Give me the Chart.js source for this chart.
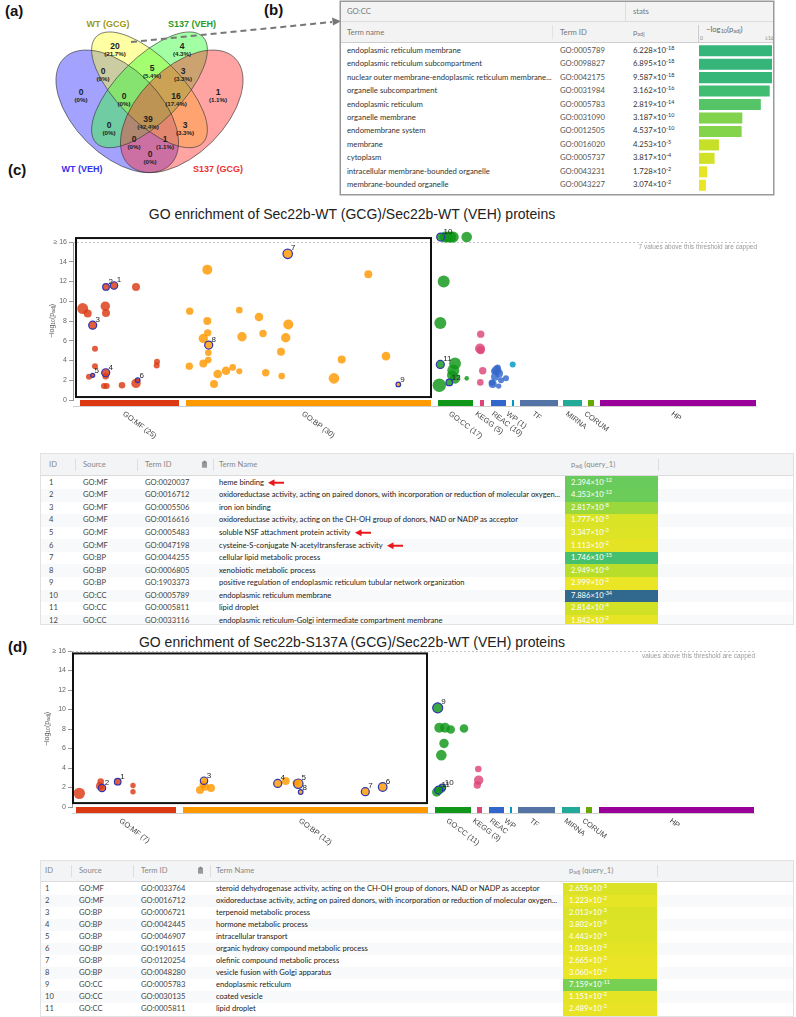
<!DOCTYPE html>
<html>
<head>
<meta charset="utf-8">
<script src="https://cdn.jsdelivr.net/npm/chart.js@4.4.1/dist/chart.umd.min.js"></script>
<style>
  body { margin:0; background:#fff; }
  #page { position:relative; width:796px; height:1017px; overflow:hidden; font-family:"Liberation Sans", Arial, sans-serif; }
  .panel { position:absolute; font-weight:bold; font-size:15px; color:#111; }
  .ptitle { position:absolute; left:0; width:704px; text-align:center; font-size:14px; color:#222; line-height:16px; }
  .tbl { position:absolute; background:#fff; overflow:hidden; font-family:Lato, "Open Sans", sans-serif; font-size:7.6px; color:#333; }
  .cell { position:absolute; white-space:nowrap; line-height:1; }
  sup { font-size:5.5px; vertical-align:3px; line-height:0; }
  sub { font-size:5.5px; vertical-align:-1px; line-height:0; }
  canvas { position:absolute; }
</style>
</head>
<body>
<div id="page">
  <svg id="top" width="796" height="200" style="position:absolute;left:0;top:0"></svg>
  <div class="panel" style="left:5px;top:2px">(a)</div>
  <div class="panel" style="left:264px;top:1px">(b)</div>
  <div class="panel" style="left:8px;top:161px">(c)</div>
  <div class="panel" style="left:8px;top:638px">(d)</div>

  <div id="tblB" class="tbl"></div>
  <canvas id="chartB"></canvas>

  <div class="ptitle" style="top:206px">GO enrichment of Sec22b-WT (GCG)/Sec22b-WT (VEH) proteins</div>
  <canvas id="chartC"></canvas>
  <div id="tblC" class="tbl"></div>

  <div class="ptitle" style="top:634px">GO enrichment of Sec22b-S137A (GCG)/Sec22b-WT (VEH) proteins</div>
  <canvas id="chartD"></canvas>
  <div id="tblD" class="tbl"></div>
</div>
<script>
// ---- (a) Venn counts, one per region
const vennSets = ['WT (VEH)', 'WT (GCG)', 'S137 (VEH)', 'S137 (GCG)'];
const vennCounts = [20, 4, 0, 1, 0, 5, 3, 0, 16, 39, 0, 3, 0, 1, 0];

// ---- (b) GO:CC terms
const bTerms = ['endoplasmic reticulum membrane', 'endoplasmic reticulum subcompartment', 'nuclear outer membrane-endoplasmic reticulum membrane...', 'organelle subcompartment', 'endoplasmic reticulum', 'organelle membrane', 'endomembrane system', 'membrane', 'cytoplasm', 'intracellular membrane-bounded organelle', 'membrane-bounded organelle'];
const bIds = ['GO:0005789', 'GO:0098827', 'GO:0042175', 'GO:0031984', 'GO:0005783', 'GO:0031090', 'GO:0012505', 'GO:0016020', 'GO:0005737', 'GO:0043231', 'GO:0043227'];
const bMant = [6.228, 6.895, 9.587, 3.162, 2.819, 3.187, 4.537, 4.253, 3.817, 1.728, 3.074];
const bExp = [-18, -18, -18, -16, -14, -10, -10, -5, -4, -2, -2];

// ---- sources of the manhattan plots
const sourceNames = ['GO:MF', 'GO:BP', 'GO:CC', 'KEGG', 'REAC', 'WP', 'TF', 'MIRNA', 'CORUM', 'HP'];
const sourceColors = ['#dc3912', '#ff9900', '#109618', '#dd4477', '#3366cc', '#0099c6', '#5574a6', '#22aa99', '#66aa00', '#990099'];

// (c) segment ranges on the term axis and term counts
const cSegStart = [7, 113, 365, 407, 418, 439, 447, 490, 515, 527];
const cSegEnd = [106, 358, 400, 411, 433, 441, 485, 509, 521, 683];
const cCounts = [25, 30, 17, 5, 10, 1, 0, 0, 0, 0];
// points: [position, -log10(padj), radius, highlighted id]
const cMF = [[9.7, 9.26, 5.5, 0], [14.7, 8.75, 4, 0], [63, 11.45, 4, 0], [32.3, 9.5, 4.7, 0], [33, 8.8, 4, 0], [22, 5.2, 3, 0], [22, 3.43, 3, 0], [16, 2.36, 3, 0], [32.7, 2.4, 3.3, 0], [31, 1.41, 3, 0], [33.7, 1.41, 3, 0], [49, 1.5, 3.3, 0], [63, 1.68, 4.7, 0], [84, 3.87, 3, 0], [83.7, 3.5, 3, 0], [33, 11.45, 3.3, 2], [41, 11.6, 3.7, 1], [19.7, 7.58, 4, 3], [32.7, 2.76, 4, 4], [19.7, 2.5, 2, 5], [64.7, 2.0, 2.3, 6]];
const cBP = [[134.3, 13.2, 5, 0], [295.3, 12.73, 4, 0], [116.7, 9.0, 3.7, 0], [166.3, 9.1, 3.3, 0], [134.3, 8.0, 4, 0], [186, 8.4, 4.3, 0], [215.3, 7.64, 5, 0], [134.7, 6.8, 3.7, 0], [190, 6.73, 3.7, 0], [130.3, 6.23, 4.7, 0], [169, 6.4, 4.7, 0], [212.7, 6.3, 4.7, 0], [135.3, 4.78, 3.3, 0], [208, 4.88, 4, 0], [116.3, 3.43, 3.7, 0], [130.3, 3.7, 4, 0], [135.3, 4.04, 3.3, 0], [268.7, 4.1, 4, 0], [313, 4.44, 4.3, 0], [159.7, 3.3, 3.3, 0], [153, 2.96, 4.3, 0], [144.7, 2.63, 4.3, 0], [166.3, 2.9, 3, 0], [192.7, 2.76, 3.7, 0], [208.7, 2.42, 3.3, 0], [261, 2.19, 5.3, 0], [141, 1.62, 4, 0], [214.7, 14.8, 4.7, 7], [135.7, 5.56, 4, 8], [325.3, 1.58, 2.3, 9]];
const cCC = [[372, 16.5, 5.5, 0], [375.3, 16.5, 5.5, 0], [378, 16.5, 5.5, 0], [380.3, 16.5, 5.5, 0], [374, 16.5, 5, 0], [393.7, 16.5, 5.3, 0], [370.7, 12.0, 6, 0], [367.3, 7.8, 6, 0], [382, 3.7, 6, 0], [380.3, 3.0, 6, 0], [366.3, 1.5, 6.7, 0], [382, 2.19, 5.3, 0], [379, 2.5, 5, 0], [393.7, 2.19, 2.3, 0], [367.7, 16.5, 4, 10], [367.3, 3.6, 4, 11], [376.3, 1.78, 3.3, 12]];
const cKEGG = [[407.7, 6.67, 3.7, 0], [407, 5.22, 5, 0], [407.7, 5.05, 4, 0], [409.7, 2.96, 3.7, 0], [407.3, 1.78, 3.3, 0]];
const cREAC = [[423.7, 3.03, 4.7, 0], [426, 2.69, 4, 0], [422, 2.36, 4, 0], [419.7, 1.62, 4, 0], [425.7, 1.41, 2.7, 0], [433, 2.19, 3, 0], [424.7, 3.3, 3, 0], [419, 1.75, 3.3, 0], [421, 2.9, 3, 0], [428, 2.0, 3, 0]];
const cWP = [[439.7, 3.6, 3, 0]];

// (d)
const dSegStart = [4, 111, 363, 405, 417, 438, 446, 490, 514, 527];
const dSegEnd = [104, 356, 399, 410, 432, 440, 483, 508, 520, 682];
const dCounts = [7, 12, 11, 3, 0, 0, 0, 0, 0, 0];
const dMF = [[7.3, 1.4, 5.7, 0], [28.7, 2.6, 3.3, 0], [28, 2.15, 4, 0], [61, 2.2, 2.7, 0], [61, 1.57, 2.7, 0], [30, 1.95, 3.7, 2], [45.7, 2.6, 3.3, 1]];
const dBP = [[128, 1.74, 4, 0], [133, 2.08, 4, 0], [139, 1.95, 4, 0], [131, 2.3, 3.5, 0], [213.7, 2.66, 4, 0], [224, 2.5, 3.5, 0], [132, 2.7, 3.7, 3], [205.7, 2.42, 4, 4], [226.3, 2.39, 4.7, 5], [310.7, 2.05, 4.3, 6], [293.3, 1.57, 4, 7], [228.7, 1.54, 2.3, 8]];
const dCC = [[367.3, 8.12, 5, 0], [373, 8.12, 5, 0], [378.7, 7.95, 4.3, 0], [392, 8.05, 4.3, 0], [372, 6.52, 4.7, 0], [369.3, 5.32, 5.3, 0], [364.7, 1.54, 4.7, 0], [369.7, 1.8, 3.3, 0], [365.7, 10.17, 5, 9], [370.3, 2.0, 3.3, 10], [366.7, 1.74, 4, 11]];
const dKEGG = [[406.3, 3.9, 3.3, 0], [406.7, 2.76, 4.7, 0], [405.3, 2.25, 3.7, 0]];

// ---- (c) table
const cSrc = ['GO:MF', 'GO:MF', 'GO:MF', 'GO:MF', 'GO:MF', 'GO:MF', 'GO:BP', 'GO:BP', 'GO:BP', 'GO:CC', 'GO:CC', 'GO:CC'];
const cTid = ['GO:0020037', 'GO:0016712', 'GO:0005506', 'GO:0016616', 'GO:0005483', 'GO:0047198', 'GO:0044255', 'GO:0006805', 'GO:1903373', 'GO:0005789', 'GO:0005811', 'GO:0033116'];
const cNames = ['heme binding', 'oxidoreductase activity, acting on paired donors, with incorporation or reduction of molecular oxygen...', 'iron ion binding', 'oxidoreductase activity, acting on the CH-OH group of donors, NAD or NADP as acceptor', 'soluble NSF attachment protein activity', 'cysteine-S-conjugate N-acetyltransferase activity', 'cellular lipid metabolic process', 'xenobiotic metabolic process', 'positive regulation of endoplasmic reticulum tubular network organization', 'endoplasmic reticulum membrane', 'lipid droplet', 'endoplasmic reticulum-Golgi intermediate compartment membrane'];
const cMant = [2.394, 4.353, 2.817, 1.777, 3.347, 1.113, 1.746, 2.949, 2.999, 7.886, 2.814, 1.842];
const cExp = [-12, -12, -8, -3, -3, -2, -15, -6, -2, -34, -4, -2];
const cArrows = [1, 5, 6];

// ---- (d) table
const dSrc = ['GO:MF', 'GO:MF', 'GO:BP', 'GO:BP', 'GO:BP', 'GO:BP', 'GO:BP', 'GO:BP', 'GO:CC', 'GO:CC', 'GO:CC'];
const dTid = ['GO:0033764', 'GO:0016712', 'GO:0006721', 'GO:0042445', 'GO:0046907', 'GO:1901615', 'GO:0120254', 'GO:0048280', 'GO:0005783', 'GO:0030135', 'GO:0005811'];
const dNames = ['steroid dehydrogenase activity, acting on the CH-OH group of donors, NAD or NADP as acceptor', 'oxidoreductase activity, acting on paired donors, with incorporation or reduction of molecular oxygen...', 'terpenoid metabolic process', 'hormone metabolic process', 'intracellular transport', 'organic hydroxy compound metabolic process', 'olefinic compound metabolic process', 'vesicle fusion with Golgi apparatus', 'endoplasmic reticulum', 'coated vesicle', 'lipid droplet'];
const dMant = [2.655, 1.223, 2.013, 3.802, 4.443, 1.033, 2.665, 3.060, 7.159, 1.151, 2.489];
const dExp = [-3, -2, -3, -3, -3, -2, -2, -2, -11, -2, -2];

// ---------- helpers
const VIR = ['#440154', '#482475', '#414487', '#355f8d', '#2a788e', '#21918c', '#22a884', '#44bf70', '#7ad151', '#bddf26', '#fde725'];
function hex2rgb(h) { return [1, 3, 5].map(i => parseInt(h.substr(i, 2), 16)); }
function viridis(t) {
  t = Math.max(0, Math.min(1, t));
  const k = t * 10, i = Math.min(9, Math.floor(k)), f = k - i;
  const a = hex2rgb(VIR[i]), b = hex2rgb(VIR[i + 1]);
  return `rgb(${a.map((v, j) => Math.round(v + (b[j] - v) * f)).join(',')})`;
}
function negLog(m, e) { return -(Math.log10(m) + e); }
function pColor(v) { return viridis(1 - v / 50); }
function rgba(hex, a) { const c = hex2rgb(hex); return `rgba(${c[0]},${c[1]},${c[2]},${a})`; }
function fmtP(m, e) { return `${m.toFixed(3)}×10<sup>${e}</sup>`; }
function cell(x, cy, html, color, extra) {
  return `<div class="cell" style="left:${x}px;top:${cy}px;transform:translateY(-50%);color:${color};${extra || ''}">${html}</div>`;
}

// ---------- (a) Venn + dashed arrow
(function drawVenn() {
  const svg = document.getElementById('top');
  const S = 215, px = x => 149.5 + (x - 0.5) * S, py = y => 32 + (0.839 - y) * S;
  const ell = [
    { cx: 0.35, cy: 0.47, a: 0.35, b: 0.20, rot: 135, fill: '#3333ff' },
    { cx: 0.50, cy: 0.57, a: 0.35, b: 0.15, rot: 135, fill: '#ffff33' },
    { cx: 0.50, cy: 0.57, a: 0.35, b: 0.15, rot: 45, fill: '#33ff33' },
    { cx: 0.65, cy: 0.47, a: 0.35, b: 0.20, rot: 45, fill: '#ff3333' }
  ];
  let s = '';
  ell.forEach(e => {
    s += `<ellipse cx="${px(e.cx)}" cy="${py(e.cy)}" rx="${e.a * S}" ry="${e.b * S}" transform="rotate(${-e.rot} ${px(e.cx)} ${py(e.cy)})" fill="${e.fill}" fill-opacity="0.45"/>`;
  });
  ell.forEach(e => {
    s += `<ellipse cx="${px(e.cx)}" cy="${py(e.cy)}" rx="${e.a * S}" ry="${e.b * S}" transform="rotate(${-e.rot} ${px(e.cx)} ${py(e.cy)})" fill="none" stroke="#333" stroke-width="0.6"/>`;
  });
  const pos = [[115, 49], [182, 49], [81, 95], [218, 95], [103, 74], [152, 71], [183, 74], [124, 99], [176, 99], [148, 122], [109, 128], [185, 128], [134, 142], [165, 142], [150, 157]];
  const total = vennCounts.reduce((a, b) => a + b, 0);
  vennCounts.forEach((n, i) => {
    const [x, y] = pos[i];
    const pct = n === 0 ? '0%' : (n / total * 100).toFixed(1) + '%';
    s += `<text x="${x}" y="${y}" text-anchor="middle" font-size="8.5" font-weight="bold" fill="#222">${n}</text>`;
    s += `<text x="${x}" y="${y + 7}" text-anchor="middle" font-size="6.2" font-weight="bold" fill="#222">(${pct})</text>`;
  });
  const lab = [[82, 172, '#3333ee', 0], [108, 27, '#a09a10', 1], [192, 27, '#2a9a2a', 2], [218, 172, '#ee3030', 3]];
  lab.forEach(([x, y, c, i]) => {
    s += `<text x="${x}" y="${y}" text-anchor="middle" font-size="9" font-weight="bold" fill="${c}">${vennSets[i]}</text>`;
  });
  s += `<line x1="131" y1="42" x2="332" y2="22" stroke="#777" stroke-width="2" stroke-dasharray="6,4"/>`;
  s += `<polygon points="341,21.3 332,17.5 333,25.5" fill="#777"/>`;
  svg.innerHTML = s;
})();

// ---------- (b) table + bar chart
(function tableB() {
  const el = document.getElementById('tblB');
  Object.assign(el.style, { left: '341px', top: '2px', width: '432px', height: '192px', boxShadow: '0 0 0 1.5px #999', fontSize: '7.7px' });
  let h = '';
  h += `<div style="position:absolute;left:0;top:0;width:432px;height:19px;background:#f3f3f3;border-bottom:1px solid #dcdcdc"></div>`;
  h += `<div style="position:absolute;left:0;top:20px;width:432px;height:20px;background:#f3f3f3;border-bottom:1.5px solid #cfcfcf"></div>`;
  h += `<div style="position:absolute;left:284px;top:0;width:1px;height:19px;background:#ddd"></div>`;
  h += `<div style="position:absolute;left:211px;top:23px;width:1px;height:14px;background:#e3e3e3"></div>`;
  h += `<div style="position:absolute;left:357px;top:23px;width:1px;height:17px;background:#ccc"></div>`;
  h += cell(6, 9.5, 'GO:CC', '#777') + cell(292, 9.5, 'stats', '#777');
  h += cell(6, 31, 'Term name', '#777') + cell(219, 31, 'Term ID', '#777') + cell(292, 31, 'p<sub>adj</sub>', '#777');
  h += cell(365, 28, '−log<sub>10</sub>(p<sub>adj</sub>)', '#666');
  h += cell(359, 36, '0', '#888', 'font-size:5px') + cell(424, 36, '≥16', '#888', 'font-size:5px');
  bTerms.forEach((t, i) => {
    const cy = 49 + i * 13.4;
    h += cell(6, cy, t, '#333') + cell(219, cy, bIds[i], '#555') + cell(292, cy, fmtP(bMant[i], bExp[i]), '#333');
  });
  el.innerHTML = h;

  const bLog = bMant.map((m, i) => Math.min(16, negLog(m, bExp[i])));
  const cv = document.getElementById('chartB');
  cv.width = 73; cv.height = 148;
  cv.style.left = '699px'; cv.style.top = '44px';
  new Chart(cv, {
    type: 'bar',
    data: {
      labels: bTerms,
      datasets: [{ data: bLog, backgroundColor: bMant.map((m, i) => pColor(negLog(m, bExp[i]))), barPercentage: 0.82, categoryPercentage: 1 }]
    },
    options: {
      indexAxis: 'y', responsive: false, animation: false, events: [], devicePixelRatio: 1,
      plugins: { legend: { display: false }, tooltip: { enabled: false } },
      scales: { x: { min: 0, max: 16, display: false }, y: { display: false } }
    }
  });
})();

// ---------- manhattan bubble charts
function makeBubble(id, g, series, segStart, segEnd, counts, box, capText) {
  const cv = document.getElementById(id);
  cv.width = 796; cv.height = g.h;
  cv.style.left = '0px'; cv.style.top = g.top + 'px';
  const datasets = series.map(([pts, ci]) => ({
    data: pts.map(p => ({ x: p[0], y: p[1], r: p[2], id: p[3] })),
    backgroundColor: rgba(sourceColors[ci], 0.82),
    borderColor: c => (c.raw && c.raw.id) ? '#2e36b0' : 'rgba(0,0,0,0)',
    borderWidth: c => (c.raw && c.raw.id) ? 1.2 : 0,
    clip: false
  }));

  const decor = {
    id: 'decor',
    beforeDatasetsDraw(chart) {
      const { ctx, chartArea: a, scales: { y } } = chart;
      const yy = Math.round(y.getPixelForValue(16)) + 0.5;
      ctx.save();
      ctx.strokeStyle = '#c4c4c4'; ctx.lineWidth = 1; ctx.setLineDash([2, 2]);
      ctx.beginPath(); ctx.moveTo(a.left, yy); ctx.lineTo(a.right, yy); ctx.stroke();
      ctx.setLineDash([]);
      ctx.fillStyle = '#9a9a9a'; ctx.font = '6.5px "Liberation Sans"';
      ctx.textAlign = 'right'; ctx.textBaseline = 'top';
      ctx.fillText(capText, a.right, yy + 1.5);
      ctx.restore();
    },
    afterDatasetsDraw(chart) {
      const { ctx, chartArea: a, scales: { x, y } } = chart;
      ctx.save();
      // source bars along the axis
      sourceNames.forEach((n, i) => {
        const x0 = x.getPixelForValue(segStart[i]), x1 = x.getPixelForValue(segEnd[i]);
        ctx.fillStyle = sourceColors[i];
        ctx.fillRect(x0, a.bottom, x1 - x0, 6);
      });
      ctx.fillStyle = '#cfcfcf';
      ctx.fillRect(a.left, a.bottom + 6, a.right - a.left, 1);
      // rotated source labels
      ctx.fillStyle = '#444'; ctx.font = '7.5px "Liberation Sans"';
      ctx.textAlign = 'left'; ctx.textBaseline = 'middle';
      sourceNames.forEach((n, i) => {
        const cx = (x.getPixelForValue(segStart[i]) + x.getPixelForValue(segEnd[i])) / 2;
        const t = counts[i] ? `${n} (${counts[i]})` : n;
        ctx.save();
        ctx.translate(cx - 6, a.bottom + 13);
        ctx.rotate(37 * Math.PI / 180);
        ctx.fillText(t, 0, 0);
        ctx.restore();
      });
      // highlight box
      ctx.strokeStyle = '#111'; ctx.lineWidth = 2;
      const bx0 = x.getPixelForValue(box[0]), bx1 = x.getPixelForValue(box[1]);
      const by0 = y.getPixelForValue(box[3]), by1 = y.getPixelForValue(box[2]);
      ctx.strokeRect(bx0, by0, bx1 - bx0, by1 - by0);
      // ids next to highlighted terms
      ctx.fillStyle = '#222'; ctx.font = '8px "Liberation Sans"';
      ctx.textAlign = 'left'; ctx.textBaseline = 'bottom';
      chart.data.datasets.forEach((ds, di) => {
        chart.getDatasetMeta(di).data.forEach((el, j) => {
          const p = ds.data[j];
          if (!p.id) return;
          ctx.fillText(String(p.id), el.x + p.r * 0.6 + 0.5, el.y - p.r * 0.6 + 1);
        });
      });
      // y axis title
      ctx.translate(g.titleX, (a.top + a.bottom) / 2);
      ctx.rotate(-Math.PI / 2);
      const parts = [['−log', 7, 0], ['10', 5, 1.5], ['(p', 7, 0], ['adj', 5, 1.5], [')', 7, 0]];
      let w = 0;
      parts.forEach(p => { ctx.font = `${p[1]}px "Liberation Sans"`; p.push(ctx.measureText(p[0]).width); w += p[3]; });
      let cx = -w / 2;
      ctx.fillStyle = '#555'; ctx.textBaseline = 'middle';
      parts.forEach(p => { ctx.font = `${p[1]}px "Liberation Sans"`; ctx.fillText(p[0], cx, p[2]); cx += p[3]; });
      ctx.restore();
    }
  };

  new Chart(cv, {
    type: 'bubble',
    data: { datasets },
    options: {
      responsive: false, animation: false, events: [], devicePixelRatio: 1,
      layout: { padding: { left: 0, right: 796 - g.right, top: g.yTop - g.top, bottom: g.top + g.h - g.yBottom } },
      plugins: { legend: { display: false }, tooltip: { enabled: false } },
      scales: {
        x: { type: 'linear', min: 0, max: g.right - g.left, display: false },
        y: {
          min: 0, max: 16,
          ticks: { stepSize: 2, color: '#666', padding: 2, font: { size: 7, family: 'Liberation Sans' }, callback: v => v === 16 ? '≥ 16' : v },
          grid: { drawOnChartArea: false, tickLength: 4, color: '#999' },
          border: { color: '#999' },
          afterFit: s => { s.width = g.left; }
        }
      }
    },
    plugins: [decor]
  });
}

makeBubble('chartC', { top: 222, h: 235, left: 73, right: 757, yTop: 242, yBottom: 400, titleX: 52 },
  [[cMF, 0], [cBP, 1], [cCC, 2], [cKEGG, 3], [cREAC, 4], [cWP, 5]],
  cSegStart, cSegEnd, cCounts, [3, 358, 0.3, 16.4], '7 values above this threshold are capped');

makeBubble('chartD', { top: 640, h: 225, left: 72, right: 755, yTop: 651, yBottom: 807, titleX: 47 },
  [[dMF, 0], [dBP, 1], [dCC, 2], [dKEGG, 3]],
  dSegStart, dSegEnd, dCounts, [1, 355, 0.4, 15.75], 'values above this threshold are capped');

// ---------- (c) / (d) tables
const ARROW = `<svg width="16" height="7" style="margin-left:4px;vertical-align:-1px"><line x1="4" y1="3.5" x2="16" y2="3.5" stroke="#e8191c" stroke-width="2"/><polygon points="0,3.5 6.5,0 6.5,7" fill="#e8191c"/></svg>`;
const CLIP = `<svg width="7" height="8"><rect x="1" y="1.5" width="5" height="6" fill="#999"/><rect x="2.5" y="0.5" width="2" height="2" fill="#777"/></svg>`;

function gpTable(elId, b, col, src, tid, names, mant, exps, arrows) {
  const el = document.getElementById(elId);
  Object.assign(el.style, { left: b.x + 'px', top: b.y + 'px', width: b.w + 'px', height: b.h + 'px', border: '1px solid #e2e2e2', boxSizing: 'border-box' });
  let h = `<div style="position:absolute;left:0;top:0;width:100%;height:${b.head}px;background:#f3f4f6;border-bottom:1px solid #dcdcdc"></div>`;
  const hy = b.head / 2;
  [['ID', col.id], ['Source', col.src], ['Term ID', col.tid], ['Term Name', col.name]].forEach(([t, x]) => { h += cell(x, hy, t, '#888'); });
  h += cell(col.icon, hy, CLIP, '#888');
  h += cell(col.p + 6, hy, 'p<sub>adj</sub> (query_1)', '#888');
  [col.src - 8, col.tid - 8, col.name - 6, col.p + col.pw].forEach(x => {
    h += `<div style="position:absolute;left:${x}px;top:${hy - 6}px;width:1px;height:12px;background:#dedede"></div>`;
  });
  names.forEach((n, i) => {
    const top = b.rowTop + i * b.pitch, cy = top + b.pitch / 2;
    if (i % 2 === 1) h += `<div style="position:absolute;left:0;top:${top}px;width:100%;height:${b.pitch}px;background:#f8f9fb"></div>`;
    h += `<div style="position:absolute;left:${col.p}px;top:${top}px;width:${col.pw}px;height:${b.pitch + 0.5}px;background:${pColor(negLog(mant[i], exps[i]))}"></div>`;
    h += cell(col.id, cy, String(i + 1), '#444') + cell(col.src, cy, src[i], '#444') + cell(col.tid, cy, tid[i], '#444');
    h += cell(col.name, cy, n + (arrows.includes(i + 1) ? ARROW : ''), '#222');
    h += cell(col.p + 6, cy, fmtP(mant[i], exps[i]), '#fff');
  });
  el.innerHTML = h;
}

gpTable('tblC', { x: 40, y: 453, w: 754, h: 172, head: 21, rowTop: 22.4, pitch: 12.57 },
  { id: 8, src: 42, tid: 104, icon: 160, name: 178, p: 524, pw: 93 },
  cSrc, cTid, cNames, cMant, cExp, cArrows);

gpTable('tblD', { x: 40, y: 860, w: 754, h: 157, head: 20, rowTop: 21.7, pitch: 12.05 },
  { id: 4, src: 38, tid: 100, icon: 156, name: 175, p: 522, pw: 94 },
  dSrc, dTid, dNames, dMant, dExp, []);
</script>
</body>
</html>
